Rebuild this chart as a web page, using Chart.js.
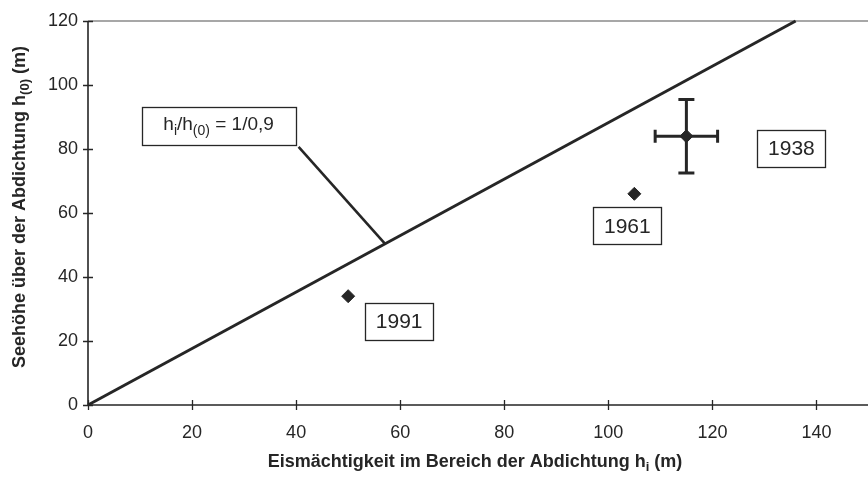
<!DOCTYPE html>
<html>
<head>
<meta charset="utf-8">
<script src="https://cdn.jsdelivr.net/npm/chart.js@4.4.1/dist/chart.umd.min.js"></script>
<style>
  html, body { margin: 0; padding: 0; background: #fff; overflow: hidden; }
  #wrap { position: relative; width: 876px; height: 479px; }
</style>
</head>
<body>
<div id="wrap"><canvas id="c"></canvas></div>
<script>
// Ratio line h_i / h_(0) = 1/0,9
const ratioLineEis = [0, 136];
const ratioLineSee = [0, 120];

// Measured states of the seal
const years = ['1991', '1961', '1938'];
const eisH = [50, 105, 115];     // ice thickness at the seal (m)
const seeH = [34, 66, 84];       // lake level above the seal (m)
const errEis = [0, 0, 6];        // ± range of ice thickness
const errSee = [0, 0, 11.5];     // ± range of lake level

const xTicks = [0, 20, 40, 60, 80, 100, 120, 140];
const yTicks = [0, 20, 40, 60, 80, 100, 120];

const INK = '#262626';
const FONT = '"Liberation Sans", Arial, sans-serif';

// draws text made of normal and subscript runs
function richWidth(ctx, parts, size, weight) {
  let w = 0;
  for (const p of parts) {
    ctx.font = `${weight} ${p.sub ? Math.round(size * 0.72) : size}px ${FONT}`;
    w += ctx.measureText(p.t).width;
  }
  return w;
}
function drawRich(ctx, parts, cx, cy, size, weight) {
  const w = richWidth(ctx, parts, size, weight);
  let x = cx - w / 2;
  ctx.textBaseline = 'middle';
  ctx.textAlign = 'left';
  for (const p of parts) {
    const s = p.sub ? Math.round(size * 0.72) : size;
    ctx.font = `${weight} ${s}px ${FONT}`;
    ctx.fillText(p.t, x, p.sub ? cy + size * 0.3 : cy);
    x += ctx.measureText(p.t).width;
  }
  return w;
}

const decorations = {
  id: 'decorations',
  beforeDatasetsDraw(chart) {
    const { ctx, chartArea: a, scales: { x, y } } = chart;
    ctx.save();
    // frame: top line, left axis and bottom axis
    ctx.strokeStyle = '#8a8a8a';
    ctx.lineWidth = 1.5;
    ctx.beginPath();
    ctx.moveTo(a.left, a.top); ctx.lineTo(a.right, a.top);
    ctx.stroke();
    ctx.strokeStyle = INK;
    ctx.lineWidth = 1.6;
    ctx.beginPath();
    ctx.moveTo(a.left, a.top); ctx.lineTo(a.left, a.bottom);
    ctx.moveTo(a.left, a.bottom); ctx.lineTo(a.right, a.bottom);
    ctx.stroke();
    // tick marks crossing the axes
    ctx.lineWidth = 1.3;
    ctx.beginPath();
    for (const v of xTicks) {
      const px = Math.round(x.getPixelForValue(v)) + 0.5;
      ctx.moveTo(px, a.bottom - 5); ctx.lineTo(px, a.bottom + 5);
    }
    for (const v of yTicks) {
      const py = Math.round(y.getPixelForValue(v)) + 0.5;
      ctx.moveTo(a.left - 5, py); ctx.lineTo(a.left + 5, py);
    }
    ctx.stroke();

    // error bars
    ctx.strokeStyle = INK;
    ctx.lineWidth = 3;
    for (let i = 0; i < years.length; i++) {
      const cx = x.getPixelForValue(eisH[i]);
      const cy = y.getPixelForValue(seeH[i]);
      if (errEis[i]) {
        const l = x.getPixelForValue(eisH[i] - errEis[i]);
        const r = x.getPixelForValue(eisH[i] + errEis[i]);
        ctx.beginPath();
        ctx.moveTo(l, cy); ctx.lineTo(r, cy);
        ctx.moveTo(l, cy - 6.5); ctx.lineTo(l, cy + 6.5);
        ctx.moveTo(r, cy - 6.5); ctx.lineTo(r, cy + 6.5);
        ctx.stroke();
      }
      if (errSee[i]) {
        const t = y.getPixelForValue(seeH[i] + errSee[i]);
        const b = y.getPixelForValue(seeH[i] - errSee[i]);
        ctx.beginPath();
        ctx.moveTo(cx, t); ctx.lineTo(cx, b);
        ctx.moveTo(cx - 8, t); ctx.lineTo(cx + 8, t);
        ctx.moveTo(cx - 8, b); ctx.lineTo(cx + 8, b);
        ctx.stroke();
      }
    }
    ctx.restore();
  },
  afterDraw(chart, args, opts) {
    const { ctx, chartArea: a, scales: { x, y } } = chart;
    ctx.save();
    ctx.fillStyle = INK;
    ctx.strokeStyle = INK;

    // year labels in boxes next to their points
    opts.yearOffsets.forEach((off, i) => {
      const cx = x.getPixelForValue(eisH[i]) + off[0];
      const cy = y.getPixelForValue(seeH[i]) + off[1];
      const w = 68, h = 37;
      ctx.fillStyle = '#fff';
      ctx.fillRect(cx - w / 2, cy - h / 2, w, h);
      ctx.lineWidth = 1.3;
      ctx.strokeRect(Math.round(cx - w / 2) + 0.5, Math.round(cy - h / 2) + 0.5, w, h);
      ctx.fillStyle = INK;
      drawRich(ctx, [{ t: years[i] }], cx, cy + 1, 21, 'normal');
    });

    // ratio label with its callout line
    const bx = x.getPixelForValue(opts.ratioBox[0]);
    const by = y.getPixelForValue(opts.ratioBox[1]);
    const ax = x.getPixelForValue(opts.ratioAnchor);
    const ay = y.getPixelForValue(opts.ratioAnchor * ratioLineSee[1] / ratioLineEis[1]);
    ctx.lineWidth = 2.6;
    ctx.beginPath();
    ctx.moveTo(bx + 80, by + 21);
    ctx.lineTo(ax, ay);
    ctx.stroke();
    const bw = 154, bh = 38;
    ctx.fillStyle = '#fff';
    ctx.fillRect(bx - bw / 2, by - bh / 2, bw, bh);
    ctx.lineWidth = 1.3;
    ctx.strokeRect(Math.round(bx - bw / 2) + 0.5, Math.round(by - bh / 2) + 0.5, bw, bh);
    ctx.fillStyle = INK;
    drawRich(ctx, [{ t: 'h' }, { t: 'i', sub: true }, { t: '/h' }, { t: '(0)', sub: true }, { t: ' = 1/0,9' }],
      bx, by - 1, 19, 'normal');

    // axis titles
    drawRich(ctx, [{ t: 'Eismächtigkeit im Bereich der Abdichtung h' }, { t: 'i', sub: true }, { t: ' (m)' }],
      475, 462, 18, 'bold');
    ctx.translate(20, 207);
    ctx.rotate(-Math.PI / 2);
    drawRich(ctx, [{ t: 'Seehöhe über der Abdichtung h' }, { t: '(0)', sub: true }, { t: ' (m)' }],
      0, 0, 18, 'bold');
    ctx.restore();
  }
};

new Chart(document.getElementById('c'), {
  type: 'scatter',
  data: {
    datasets: [
      {
        label: 'h_i/h_(0) = 1/0,9',
        data: ratioLineEis.map((v, i) => ({ x: v, y: ratioLineSee[i] })),
        showLine: true,
        borderColor: INK,
        borderWidth: 3,
        pointRadius: 0,
        clip: 4
      },
      {
        label: 'Messungen',
        data: eisH.map((v, i) => ({ x: v, y: seeH[i] })),
        pointStyle: 'rectRot',
        pointRadius: [6.5, 6.5, 6.5],
        backgroundColor: INK,
        borderColor: INK,
        borderWidth: 1
      }
    ]
  },
  options: {
    responsive: true,
    maintainAspectRatio: false,
    animation: false,
    layout: { padding: { top: 21, right: 0, left: 0, bottom: 0 } },
    plugins: {
      legend: { display: false },
      tooltip: { enabled: false },
      decorations: {
        yearOffsets: [[51, 25], [-7, 32], [105, 12]],
        ratioBox: [25.1, 87.2],
        ratioAnchor: 57.1
      }
    },
    scales: {
      x: {
        type: 'linear',
        min: 0, max: 150,
        afterBuildTicks: s => { s.ticks = xTicks.map(v => ({ value: v })); },
        afterFit: s => { s.height = 74; },
        grid: { display: false, drawTicks: false },
        border: { display: false },
        ticks: { color: INK, padding: 17, font: { family: FONT, size: 18 } }
      },
      y: {
        type: 'linear',
        min: 0, max: 120,
        afterBuildTicks: s => { s.ticks = yTicks.map(v => ({ value: v })); },
        afterFit: s => { s.width = 88; },
        grid: { display: false, drawTicks: false },
        border: { display: false },
        ticks: { color: INK, padding: 10, font: { family: FONT, size: 18 } }
      }
    }
  },
  plugins: [decorations]
});
</script>
</body>
</html>
